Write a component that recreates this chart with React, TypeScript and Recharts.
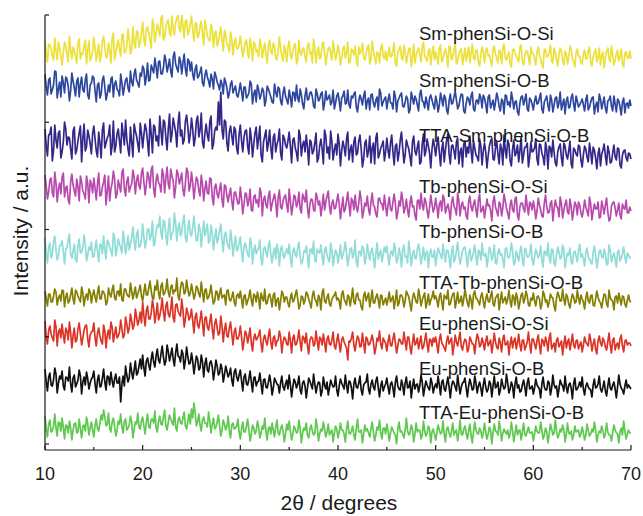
import { Line, LineChart, XAxis, YAxis } from "recharts";

// XRD scan: 10–70°, read at 0.25° points plus the half-step points between them
const SCAN_START = 10;
const SCAN_STEP = 0.125;
const SCAN_POINTS = 481;

const sampleNames = [
  "Sm-phenSi-O-Si",
  "Sm-phenSi-O-B",
  "TTA-Sm-phenSi-O-B",
  "Tb-phenSi-O-Si",
  "Tb-phenSi-O-B",
  "TTA-Tb-phenSi-O-B",
  "Eu-phenSi-O-Si",
  "Eu-phenSi-O-B",
  "TTA-Eu-phenSi-O-B",
];

// vertical stacking offset of each trace (a.u.)
const offsets = [384, 337, 284, 231, 184, 141, 97, 54, 9];

const xMajorTicks = [10, 20, 30, 40, 50, 60, 70];
const xMinorTicks = [15, 25, 35, 45, 55, 65];
const yTicks = [0, 107.25, 214.5, 321.75, 429];

// intensities at 10, 10.25, ... 70 (one row per 5°)
const smSiOSi = [
  20, -2, 15, 4, 22, 0, 12, -5, 18, 6, 24, 1, 9, -3, 21, 7, 14, -4, 19, 3,
  23, -1, 16, 5, 24, 2, 17, -3, 27, 8, 20, 4, 26, 9, 31, 6, 33, 12, 28, 18,
  38, 14, 33, 20, 41, 18, 36, 24, 45, 22, 38, 27, 44, 25, 42, 31, 45, 22, 40, 29,
  44, 19, 37, 25, 39, 15, 33, 21, 36, 12, 29, 18, 33, 9, 26, 14, 28, 5, 22, 11,
  24, 3, 18, 7, 22, -1, 16, 10, 21, 2, 17, -3, 20, 6, 14, 0, 23, 4, 15, -2,
  19, 1, 14, -4, 20, 5, 12, -2, 17, 8, 21, -3, 13, 3, 18, -5, 11, 7, 19, 0,
  15, -5, 11, 2, 18, -2, 9, 14, -6, 6, 17, 0, 12, -4, 19, 3, 8, -3, 16, 1,
  -1, 13, 4, 17, -6, 10, 2, 15, -3, 11, -7, 16, 5, 12, -2, 18, 1, 9, -5, 14,
  8, -4, 15, 1, 11, -7, 13, 3, 17, -2, 9, -5, 12, 6, -3, 16, 0, 10, -6, 13,
  -3, 12, 5, -6, 14, 2, 10, -4, 16, 0, 8, -7, 11, 4, -2, 15, -5, 9, 3, 13,
  6, -5, 13, 1, -8, 10, 4, 15, -3, 7, -6, 12, 0, 9, -4, 14, 2, -7, 11, 3,
  -4, 10, 2, 13, -6, 7, -2, 12, 4, -8, 9, 1, 14, -5, 6, -1, 11, -7, 8, 2,
  1,
];
// intensities at 10.125, 10.375, ... 69.875
const smSiOSiMid = [
  5, 16, 11, 0, 9, 18, 3, 7, 14, -2, 10, 13, 4, 17, 1, 6, 20, 10, -1, 8,
  12, 7, -2, 19, 13, 4, 9, 22, 0, 15, 11, 25, 7, 14, 21, 10, 17, 29, 13, 26,
  22, 31, 27, 12, 35, 26, 30, 42, 20, 33, 40, 24, 31, 37, 45, 28, 34, 39, 25, 36,
  30, 37, 22, 33, 27, 40, 24, 19, 31, 27, 14, 25, 20, 30, 16, 8, 21, 17, 12, 15,
  14, 10, 20, 2, 13, 18, 8, 3, 15, 11, 5, 14, 8, 17, 2, 10, 12, -1, 9, 13,
  5, 9, 16, -1, 7, 11, 3, 14, 6, -3, 12, 9, 1, 16, 7, 4, 13, 0, 9, 6,
  8, 2, 14, 7, -3, 11, 5, 0, 13, 9, 3, 6, 15, 1, 10, -4, 7, 12, 4, 9,
  6, 3, 10, -4, 8, 14, 0, 7, 5, 12, 2, -3, 9, 6, 13, 4, -1, 11, 7, 0,
  3, 12, -2, 7, 5, 14, 0, 9, -4, 6, 11, 3, -1, 13, 7, 2, 10, -3, 5, 8,
  9, 4, -1, 11, 6, -3, 8, 12, 2, 5, -4, 10, 7, 1, 13, -2, 4, 9, -5, 7,
  2, 8, 5, -4, 11, 3, 7, -1, 12, 0, 5, 9, -5, 6, 3, 10, -2, 7, 4, -3,
  6, 1, 9, -3, 4, 11, 2, -5, 8, 3, 12, -2, 5, 0, 10, 4, -4, 7, 2, 9,
];

const smSiOB = [
  33, 12, 29, 17, 36, 9, 25, 31, 14, 28, 6, 34, 19, 26, 10, 30, 15, 33, 8, 24,
  29, 5, 24, 13, 31, 7, 22, 28, 10, 26, 16, 33, 12, 27, 19, 36, 21, 38, 24, 34,
  41, 22, 44, 27, 38, 49, 29, 46, 33, 52, 35, 48, 30, 55, 39, 50, 33, 53, 31, 46,
  45, 27, 42, 31, 40, 21, 37, 26, 33, 18, 31, 22, 27, 13, 25, 9, 23, 14, 21, 10,
  24, 6, 20, 11, 26, 3, 17, 22, 8, 19, 1, 21, 14, 5, 23, 10, 18, 2, 20, 7,
  17, 0, 14, 22, 5, 12, -2, 19, 8, 15, 1, 18, 6, 13, -3, 16, 9, 2, 17, 4,
  14, -4, 11, 3, 17, -1, 9, 15, -5, 12, 2, 16, 6, -3, 13, 0, 10, 18, 1, 8,
  -2, 13, 4, 16, -5, 9, 14, 0, 11, -6, 15, 3, 8, -4, 17, 5, 10, -3, 12, 2,
  11, -5, 14, 1, 9, -7, 13, 4, 16, -2, 8, 12, -6, 10, 2, 15, -4, 7, 13, -1,
  9, -6, 12, 3, -3, 14, 0, 8, -7, 11, 5, 15, -2, 6, -8, 10, 2, 13, -4, 7,
  -3, 11, 4, 14, -6, 8, 1, 12, -5, 9, -1, 15, 3, -7, 10, 0, 13, -4, 6, 2,
  8, -4, 12, 0, 9, -7, 5, 13, -2, 10, -6, 7, 1, 11, -5, 6, -8, 9, 3, -1,
  1,
];
const smSiOBMid = [
  20, 27, 13, 22, 35, 18, 10, 24, 30, 21, 16, 26, 11, 29, 23, 17, 27, 12, 22, 31,
  16, 22, 9, 27, 20, 13, 15, 30, 23, 18, 11, 24, 20, 29, 15, 25, 33, 27, 20, 31,
  38, 30, 26, 42, 34, 40, 45, 33, 39, 47, 41, 36, 50, 43, 35, 46, 44, 38, 48, 36,
  33, 38, 29, 35, 24, 32, 30, 20, 28, 35, 25, 17, 23, 29, 19, 14, 26, 18, 12, 16,
  16, 20, 9, 14, 23, 13, 5, 17, 12, 16, 7, 18, 10, 4, 15, 20, 6, 14, 11, 3,
  10, 15, 6, 9, 18, 3, 11, 7, 14, 10, -1, 13, 8, 15, 4, 7, 12, 5, -2, 11,
  6, 9, 16, 4, 2, 11, 13, 0, 6, 8, 11, -2, 9, 12, 4, 7, -3, 14, 5, 10,
  7, 4, -2, 10, 6, 12, 1, 5, 8, -3, 9, 11, 2, 13, 6, -1, 4, 9, 7, -2,
  5, 2, 8, 12, -3, 6, 3, 10, 7, 1, 13, -4, 4, 8, 11, -2, 6, 3, 9, 12,
  3, 10, -1, 7, 5, 9, -4, 6, 12, 2, 0, 8, 5, -5, 4, 11, 7, -2, 9, 3,
  6, 3, 9, -2, 5, 11, -4, 7, 2, 10, 4, -3, 8, 6, -1, 9, 3, 11, 0, 5,
  2, 7, -3, 5, 10, 1, -5, 8, 4, -1, 6, 11, -4, 3, 8, 0, 5, -6, 4, 7,
];

const ttaSmSiOB = [
  31, 4, 26, -1, 35, 12, 29, 8, 38, 15, 22, 1, 33, 10, 27, -2, 36, 13, 24, 6,
  34, 9, 28, 2, 37, 17, 25, 5, 39, 14, 31, 7, 26, 40, 11, 33, 3, 29, 16, 37,
  12, 36, 18, 41, 7, 33, 24, 44, 15, 38, 10, 46, 26, 35, 13, 48, 30, 20, 45, 17,
  42, 14, 39, 23, 47, 12, 36, 19, 44, 16, 33, 58, 68, 21, 38, 9, 34, 15, 30, 6,
  35, 8, 29, 14, 32, 3, 27, 11, 34, -2, 24, 9, 30, 1, 26, 16, 31, 0, 22, 12,
  28, -3, 22, 7, 30, 4, 19, 25, -5, 18, 9, 27, 2, 21, -4, 24, 13, 29, 0, 16,
  26, -6, 19, 4, 28, 10, -2, 23, 7, 25, -7, 17, 3, 24, 12, -4, 27, 6, 15, -1,
  22, 2, 25, -5, 16, 7, 28, -3, 20, 11, -6, 24, 5, 19, -2, 26, 9, 14, -8, 21,
  4, 23, -6, 18, 10, 26, -4, 15, 1, 22, 8, -7, 19, 13, 24, -3, 12, 3, 21, -5,
  17, -8, 14, 22, 0, 19, -4, 11, 25, 2, 16, -6, 20, 7, -2, 23, 5, 13, -7, 18,
  9, 21, -5, 15, 3, 18, -9, 12, 20, -3, 8, 16, -6, 14, 1, 19, -8, 10, 4, 13,
  -7, 14, 3, 17, -4, 10, -9, 12, 6, 16, -5, 8, -2, 15, 0, 11, -8, 9, 2, 7,
  1,
];
const ttaSmSiOBMid = [
  14, 25, 33, 9, 20, 27, 2, 18, 31, 23, 11, 29, 6, 19, 34, 21, 9, 30, 16, 26,
  21, 3, 17, 30, 12, 22, 35, 14, 8, 26, 19, 37, 15, 21, 4, 18, 36, 24, 8, 27,
  25, 30, 4, 26, 35, 19, 14, 29, 40, 22, 31, 18, 42, 28, 37, 24, 16, 39, 33, 26,
  31, 22, 44, 30, 18, 27, 25, 38, 11, 29, 30, 35, 30, 40, 17, 28, 24, 33, 12, 26,
  19, 23, 30, 6, 21, 16, 33, 22, 5, 18, 30, 17, 12, 23, 8, 20, 7, 25, 15, 19,
  14, 20, 12, -1, 24, 15, 8, 13, 20, 6, 17, -2, 14, 11, 30, 7, 1, 18, 10, 5,
  16, 9, 13, 21, 0, 15, 18, 5, 19, 11, 1, 20, 9, -3, 17, 22, 2, 12, 19, 8,
  10, 17, 8, 14, -1, 20, 12, 5, 15, 3, 18, 9, 13, -4, 16, 4, 21, 7, 11, 14,
  15, 8, 11, -2, 20, 6, 14, 9, 18, -4, 12, 16, 3, 7, 10, 19, 5, -1, 14, 9,
  8, 4, 19, 1, 12, 6, 16, -5, 10, 20, -1, 11, 4, 15, 9, -3, 13, 17, 3, 8,
  12, 1, 16, 7, -5, 10, 14, 3, 8, -6, 13, 2, 17, 5, 9, -4, 12, 6, 15, 0,
  5, 11, -2, 8, 13, 2, 6, -6, 10, 4, 14, -3, 7, 3, 12, -5, 5, 10, -1, 6,
];

const tbSiOSi = [
  38, 14, 33, 20, 41, 11, 30, 36, 16, 27, 9, 39, 22, 34, 12, 31, 19, 37, 10, 29,
  35, 13, 40, 18, 31, 8, 37, 24, 42, 15, 33, 21, 44, 17, 36, 26, 43, 19, 38, 24,
  45, 18, 41, 25, 47, 16, 39, 28, 44, 20, 46, 24, 37, 15, 43, 29, 40, 17, 45, 22,
  41, 14, 36, 22, 38, 12, 32, 19, 34, 8, 29, 15, 30, 6, 27, 11, 25, 3, 21, 9,
  26, -1, 20, 7, 24, 2, 18, 13, 25, -3, 17, 5, 22, 9, 19, -4, 23, 4, 16, 8,
  24, -2, 18, 6, 21, 0, 15, 23, -5, 14, 3, 20, 8, -3, 19, 11, 22, -1, 13, 5,
  19, -6, 16, 4, 21, -3, 12, 18, 1, 22, -5, 10, 17, -2, 20, 6, -4, 15, 9, 18,
  -3, 16, 2, 19, -6, 12, 21, 0, 14, -4, 17, 7, -7, 13, 20, 3, 11, -5, 18, 1,
  15, -5, 12, 18, 0, 9, -7, 16, 4, 20, -3, 11, 6, -6, 17, 2, 13, -4, 19, 3,
  -5, 14, 8, -8, 17, 2, 11, -3, 19, 5, -6, 13, 1, 16, -7, 10, 4, 18, -2, 9,
  12, -6, 15, 3, -4, 18, 0, 10, -8, 13, 5, 16, -5, 9, 1, 14, -7, 11, -2, 8,
  -4, 13, 2, 16, -7, 9, 4, -5, 12, -1, 15, -8, 7, 11, -3, 10, -6, 5, 13, 0,
  2,
];
const tbSiOSiMid = [
  27, 21, 35, 16, 30, 24, 19, 40, 25, 13, 31, 28, 17, 26, 37, 22, 14, 29, 33, 20,
  25, 29, 17, 26, 38, 22, 12, 30, 34, 19, 27, 40, 24, 31, 21, 29, 36, 32, 27, 40,
  31, 28, 36, 43, 24, 33, 30, 21, 38, 35, 29, 44, 32, 26, 39, 34, 23, 30, 41, 27,
  30, 26, 33, 17, 29, 24, 20, 35, 16, 26, 19, 24, 13, 28, 17, 19, 12, 20, 15, 10,
  14, 9, 19, 12, 3, 16, 10, 6, 20, 13, 8, 17, 2, 14, 11, 15, 6, 12, 18, 1,
  12, 7, 16, 10, 4, 19, 11, 5, 9, 13, 2, 15, 12, 6, 3, 17, 7, 10, 4, 12,
  9, 5, 1, 12, 8, 15, 3, 6, 10, 13, 2, 7, 4, 11, 8, -1, 14, 10, 3, 7,
  8, 4, 11, 9, 1, 7, 13, 5, 3, 10, 6, -2, 12, 4, 8, 15, 2, 6, 9, 5,
  6, 9, 2, 14, 5, 3, 10, 7, -2, 12, 8, 4, -3, 11, 6, 9, 3, 13, 1, 7,
  4, 7, 2, 11, 6, -3, 9, 5, 12, 0, 8, 3, 14, -2, 6, 10, 1, 7, 11, 3,
  5, 2, 8, -3, 10, 6, 1, 12, 4, 7, -4, 9, 3, 13, -1, 6, 2, 8, 11, 0,
  3, 6, -3, 9, 2, 4, 11, -4, 6, 8, 1, -6, 10, 5, 3, -2, 9, 4, 0, 6,
];

const tbSiOB = [
  22, -3, 17, 5, 24, 0, 14, 19, -4, 12, 26, 2, 16, -2, 21, 8, 25, -1, 13, 18,
  3, 20, -2, 15, 24, 1, 18, 9, 27, 4, 21, 12, 29, 6, 24, 16, 33, 10, 30, 14,
  36, 12, 31, 20, 39, 17, 35, 44, 21, 38, 15, 42, 26, 47, 19, 37, 28, 45, 18, 40,
  24, 44, 19, 36, 13, 39, 30, 17, 35, 10, 31, 22, 36, 8, 28, 14, 30, 4, 24, 11,
  23, -2, 17, 6, 22, -4, 15, 10, 20, -5, 13, 3, 19, -3, 12, 16, -6, 14, 2, 11,
  16, -7, 12, 3, 18, -4, 9, 14, -8, 11, 19, -2, 8, 15, -5, 13, 1, 17, -6, 10,
  -3, 15, 5, 18, -6, 11, 2, 20, -7, 9, 14, -4, 16, 0, 12, -8, 17, 6, -2, 13,
  14, -5, 9, 17, -3, 12, -7, 15, 4, 19, -6, 10, 1, 16, -4, 13, 7, -8, 11, 3,
  -6, 12, 5, 16, -2, 10, -8, 14, 1, 18, -4, 9, 13, -7, 11, 2, 15, -5, 8, 17,
  4, -7, 13, 0, 15, -4, 11, 6, -8, 12, 2, 17, -5, 9, -1, 14, -6, 10, 3, 16,
  -5, 11, 2, 14, -7, 8, 17, -3, 10, -6, 13, 1, 15, -8, 7, 12, -4, 9, -2, 16,
  6, -6, 12, 1, -4, 14, -8, 9, 3, 11, -5, 15, -2, 7, -7, 10, 2, 13, -3, 5,
  2,
];
const tbSiOBMid = [
  7, 13, 2, 19, 10, 4, 15, 8, 11, 20, 6, 9, 1, 14, 7, 12, 16, 5, 10, 3,
  12, 8, 16, 6, 10, 20, 13, 4, 23, 11, 16, 7, 19, 14, 10, 22, 19, 25, 13, 21,
  23, 19, 31, 25, 14, 28, 33, 27, 40, 25, 31, 20, 29, 36, 32, 24, 38, 22, 31, 26,
  33, 29, 20, 31, 27, 24, 36, 19, 26, 22, 17, 29, 20, 24, 18, 11, 20, 15, 9, 17,
  8, 14, 11, 3, 17, 9, 6, 12, 1, 11, 8, 14, 5, 7, 1, 9, 11, 4, 8, 6,
  2, 9, 5, 12, 3, -1, 8, 4, 10, 6, 0, 11, 7, 3, 9, 5, -2, 10, 4, 7,
  5, 1, 10, 7, 3, 12, 6, -2, 8, 4, 11, 2, 7, 9, 3, 6, 1, 10, 5, 8,
  2, 7, 4, 9, 1, 6, 10, 3, -3, 8, 5, 2, 11, 7, 4, 0, 9, 6, 3, 10,
  4, 8, 1, 6, 10, 3, 7, -2, 9, 5, 2, 12, 4, 6, -1, 8, 3, 10, 0, 5,
  7, 2, 10, 4, -3, 8, 5, 1, 11, 3, 6, 9, -2, 4, 8, 0, 12, 3, 6, 1,
  3, 7, 5, 0, 9, 4, 2, 11, -3, 6, 8, 3, 10, 1, 5, -2, 7, 4, 9, 3,
  1, 8, 3, -2, 7, 5, 0, 10, 2, 6, -4, 9, 4, 1, 8, -1, 6, 3, 7, 2,
];

const ttaTbSiOB = [
  12, -3, 9, 1, 14, -2, 8, 13, -4, 10, 2, 15, -1, 11, 4, 16, -3, 9, 14, 0,
  13, 1, 17, 4, 11, -2, 15, 6, 18, 3, 12, 19, 2, 14, 7, 20, 4, 16, 9, 18,
  2, 19, 8, 22, 5, 17, 23, 4, 20, 10, 24, 6, 18, 13, 25, 3, 21, 9, 23, 7,
  19, 4, 17, 9, 21, 1, 14, 6, 18, -1, 12, 3, 15, 7, -2, 13, 2, 11, -3, 9,
  12, -5, 8, 2, 13, -3, 7, 11, -6, 5, 14, 0, 9, -4, 10, 3, -7, 12, 1, 6,
  -4, 10, 3, 13, -6, 7, -1, 11, 4, -5, 12, 2, 8, -7, 14, 0, 9, -3, 6, 11,
  5, -6, 12, 1, 8, -3, 15, -1, 10, 3, -7, 11, 6, -4, 13, 0, 9, -5, 7, 2,
  -2, 11, 4, -6, 13, 0, 8, -4, 12, 6, -8, 10, 1, 14, -3, 7, -5, 9, 3, 12,
  7, -4, 10, -7, 6, 13, -1, 9, -5, 11, 2, -3, 14, 0, 8, -6, 12, 4, -2, 10,
  -5, 9, 1, 12, -3, 7, -7, 11, 3, -1, 13, -4, 6, 10, -6, 8, 0, 12, -2, 5,
  10, -3, 7, -6, 12, 1, -4, 9, 5, -8, 11, 2, 14, -2, 6, -5, 9, 0, 13, -1,
  4, -6, 11, 0, 8, -3, 12, 2, -5, 9, -1, 13, 3, -7, 7, 10, -2, 6, -4, 8,
  1,
];
const ttaTbSiOBMid = [
  4, 9, 1, 7, 11, 5, 2, 12, 6, 0, 8, 4, 13, 7, 1, 10, 6, 3, 11, 8,
  6, 10, 4, 12, 8, 1, 9, 13, 5, 11, 7, 3, 14, 9, 6, 12, 10, 5, 13, 7,
  11, 8, 15, 12, 4, 13, 10, 17, 8, 14, 11, 16, 9, 12, 7, 15, 19, 11, 14, 10,
  12, 8, 15, 6, 11, 13, 4, 10, 7, 2, 11, 9, 5, 8, 12, 4, 6, 1, 7, 5,
  4, 7, -2, 6, 3, 9, 1, 5, 10, 2, -1, 7, 4, 8, -3, 5, 2, 9, 6, 0,
  5, 1, 8, 4, -2, 6, 3, 9, 0, 7, 4, -3, 5, 10, 2, 6, -1, 4, 8, 3,
  2, 9, 4, -2, 6, 5, 1, 8, 3, -4, 7, 2, 10, 4, 0, 6, 3, 8, -2, 5,
  4, 1, 7, 3, -3, 8, 5, 2, 9, -1, 4, 6, 0, 7, 3, 10, 1, -2, 6, 4,
  3, 6, 1, 8, 4, -2, 5, 10, 2, 0, 7, 4, 6, -4, 3, 9, 5, 1, 7, 2,
  4, 2, 7, -1, 5, 9, 3, 0, 6, 4, 2, 8, -2, 5, 1, 10, 4, 7, -3, 3,
  2, 6, 4, -1, 8, 3, 1, 6, -3, 5, 7, 2, 4, 9, -1, 3, 6, 1, 5, 8,
  1, 5, 2, 7, -2, 4, 6, 0, 3, 8, -4, 5, 2, 6, 0, 4, 7, -1, 3, 2,
];

const euSiOSi = [
  26, 3, 21, 9, 27, 1, 18, 23, 4, 16, 25, -1, 19, 7, 24, 2, 17, 22, 0, 15,
  24, 1, 19, 6, 22, -1, 17, 25, 5, 20, 11, 27, 9, 30, 14, 33, 18, 38, 22, 35,
  45, 21, 41, 28, 47, 24, 44, 31, 49, 26, 45, 30, 50, 25, 43, 33, 48, 20, 39, 27,
  38, 14, 34, 19, 36, 11, 30, 17, 33, 8, 28, 12, 31, 5, 24, 10, 25, 2, 19, 8,
  21, -3, 16, 4, 19, -4, 13, 9, 17, -5, 12, 2, 18, -2, 11, 6, 16, -6, 10, 3,
  15, -6, 12, 3, 17, -4, 9, 14, -7, 10, 1, 16, -3, 8, 13, -5, 11, 2, 15, -2,
  13, -5, 10, 2, -13, 5, 15, -4, 11, 0, 14, -6, 8, 3, 12, -7, 9, 16, -2, 6,
  -4, 12, 1, 14, -6, 8, 3, 15, -3, 10, -7, 13, 4, -2, 11, 0, 14, -5, 7, 9,
  10, -6, 13, 2, -4, 11, 6, -8, 12, 1, 15, -3, 8, -5, 10, 3, -7, 13, 0, 9,
  -3, 11, 4, -6, 14, 0, 9, -5, 12, 3, -8, 10, 6, -2, 13, -4, 7, 1, 15, -6,
  8, -2, 12, -7, 6, 10, -4, 14, 1, -5, 9, 3, -8, 11, 5, -3, 13, -1, 7, 2,
  -5, 10, 3, 13, -4, 8, -7, 11, 1, 6, -3, 14, -6, 9, 2, -2, 12, -5, 7, 4,
  1,
];
const euSiOSiMid = [
  10, 17, 13, 6, 20, 15, 9, 12, 19, 7, 14, 11, 5, 18, 13, 9, 21, 8, 12, 16,
  9, 14, 11, 3, 16, 12, 8, 20, 13, 9, 15, 18, 12, 23, 19, 26, 22, 30, 27, 24,
  31, 36, 28, 34, 39, 33, 27, 38, 35, 41, 33, 38, 29, 42, 36, 31, 37, 28, 34, 30,
  26, 30, 22, 27, 24, 29, 20, 25, 18, 23, 19, 14, 21, 17, 11, 19, 13, 15, 8, 12,
  10, 6, 13, 11, 4, 9, 7, 12, 3, 8, 6, 11, 4, 9, 1, 7, 10, 5, 8, 2,
  6, 9, 2, 8, 5, 11, 4, 1, 7, 9, 3, 6, 10, 2, 5, 8, 3, 7, 1, 6,
  3, 7, 5, -1, 6, 9, 2, 5, 8, 1, 4, 10, 2, 7, 5, -1, 6, 3, 9, 4,
  5, 2, 8, 4, 1, 7, 3, 6, 10, 0, 4, 2, 9, 5, -2, 6, 3, 8, 1, 5,
  2, 7, 4, -1, 6, 3, 9, 1, 5, 8, 0, 4, 6, -2, 7, 3, 5, 9, 2, 4,
  6, 1, 7, 3, 5, -2, 4, 8, 2, 6, 3, -1, 9, 4, 2, 7, -3, 5, 3, 8,
  3, 6, 2, 8, 1, 5, 9, -2, 4, 7, 0, 6, 3, -1, 8, 4, 2, 6, -2, 5,
  2, 5, 1, 7, 3, -2, 6, 4, 9, 0, 5, 2, 7, -3, 4, 8, 1, 6, 2, 4,
];

const euSiOB = [
  21, -1, 17, 4, 22, -3, 14, 19, 0, 12, 23, -2, 15, 6, 20, -4, 13, 18, 1, 11,
  19, -3, 15, 4, 21, 0, 13, 18, 3, 16, 7, -12, 14, 24, 8, 27, 11, 29, 17, 31,
  35, 14, 32, 20, 38, 23, 41, 27, 44, 25, 45, 29, 42, 24, 46, 33, 40, 21, 43, 26,
  37, 16, 34, 20, 35, 13, 32, 18, 29, 10, 30, 15, 26, 8, 24, 13, 22, 4, 21, 9,
  20, -1, 16, 5, 19, -2, 13, 8, 17, -4, 11, 2, 15, -5, 12, 6, -3, 14, 0, 10,
  15, -7, 11, 2, 14, -4, 9, -8, 12, 5, 16, -3, 8, -6, 13, 1, -5, 10, 3, 14,
  -6, 11, 4, 15, -3, 8, -9, 12, 2, 14, -5, 7, 16, -4, 10, 0, 13, -7, 9, 3,
  12, -4, 8, -7, 14, 1, 10, -5, 13, 3, -8, 11, 5, -2, 15, -6, 9, 2, 12, -3,
  6, 14, -5, 10, -1, 13, -8, 9, 3, 15, -4, 7, 12, -7, 11, 0, 14, -3, 8, -6,
  12, -2, 9, -7, 14, 4, -5, 11, 1, 16, -3, 8, -8, 13, 5, -1, 10, -6, 12, 2,
  -4, 11, 3, -8, 13, 0, 9, -5, 15, 2, -7, 10, 4, 14, -3, 7, -9, 12, 1, 8,
  13, -5, 7, 1, -7, 11, 3, 14, -2, 9, -6, 12, 0, 8, -8, 15, 2, -4, 10, 5,
  1,
];
const euSiOBMid = [
  8, 13, 5, 10, 16, 7, 11, 4, 13, 9, 6, 12, 3, 10, 14, 8, 5, 11, 7, 13,
  6, 10, 3, 12, 8, 14, 5, 9, 11, 7, 13, 6, 4, 15, 12, 18, 20, 15, 24, 21,
  22, 29, 25, 31, 28, 34, 30, 36, 33, 29, 38, 35, 31, 37, 34, 28, 36, 30, 33, 27,
  29, 25, 31, 22, 28, 26, 20, 27, 23, 19, 24, 17, 21, 15, 19, 16, 10, 18, 13, 15,
  9, 13, 6, 11, 8, 12, 4, 9, 6, 10, 3, 8, 7, 2, 9, 5, 7, 3, 6, 1,
  5, 3, 8, 6, 0, 7, 4, 2, 9, 1, 6, 4, 7, -1, 5, 8, 2, 6, 4, 0,
  4, 7, 1, 5, 9, 2, 6, 3, 7, 0, 5, 8, 1, 6, 3, 9, 2, 4, -1, 6,
  3, 6, 2, 8, 4, 0, 5, 7, 2, 9, 3, 1, 6, 4, 8, 2, 5, 0, 7, 3,
  2, 5, 8, 1, 6, 3, 4, 7, -1, 5, 3, 8, 2, 4, 6, 1, 7, 4, 2, 5,
  3, 1, 6, 4, 2, 8, 0, 5, 3, 7, 1, 4, 6, 2, -2, 5, 3, 7, 1, 4,
  2, 5, 1, 6, 3, 0, 7, 2, 5, 4, 1, 6, -1, 3, 5, 2, 6, 0, 4, 3,
  1, 4, 3, 0, 5, 2, 6, 1, 3, -1, 4, 2, 5, 1, 3, 6, 0, 4, 2, 3,
];

const ttaEuSiOB = [
  19, -2, 15, 4, 21, -1, 12, 17, -4, 9, 14, -5, 11, 2, 16, -3, 10, 18, 0, 13,
  -2, 16, 4, 20, 25, 9, 22, 3, 17, -1, 14, 21, 2, 16, 7, 19, -3, 13, 22, 6,
  18, 1, 21, 7, 16, 24, 3, 19, 10, 25, 5, 20, 13, 27, 4, 18, 11, 23, 6, 21,
  26, 32, 9, 21, 4, 18, 12, 23, 2, 17, 8, 20, -1, 15, 5, 19, -3, 12, 7, 16,
  -4, 13, 3, 16, -6, 10, 1, 14, -3, 9, 17, -5, 8, 12, -2, 15, 0, 10, -7, 11,
  14, -5, 9, 2, 15, -8, 7, 12, -3, 10, 0, 16, -6, 6, 13, -2, 11, 3, -7, 9,
  -3, 12, 5, -7, 14, 1, 9, -5, 16, 3, -8, 10, 6, -2, 13, -6, 8, 15, -4, 7,
  11, -6, 8, 2, -9, 13, 4, -3, 17, 0, 10, -7, 12, 5, -4, 14, -1, 9, -8, 6,
  -5, 10, 1, 14, -7, 8, -2, 12, 3, -6, 15, 0, 9, -4, 11, -8, 13, 2, 7, -3,
  12, -4, 8, -9, 11, 3, 14, -6, 6, 1, -3, 13, -7, 10, 4, -5, 12, -1, 8, 2,
  -6, 9, 2, 13, -4, 7, -8, 11, 0, 15, -3, 6, 10, -7, 12, 1, -5, 9, 4, -2,
  8, -5, 11, -1, 6, 13, -7, 4, 9, -3, 12, 0, -6, 10, 2, -8, 7, 14, -4, 5,
  2,
];
const ttaEuSiOBMid = [
  6, 11, 3, 9, 7, 13, 4, 8, 10, 2, 7, 5, 12, 3, 6, 9, 4, 11, 7, 5,
  10, 6, 12, 15, 18, 11, 7, 13, 9, 4, 11, 8, 14, 5, 10, 13, 6, 11, 8, 14,
  9, 13, 8, 16, 12, 7, 14, 11, 18, 9, 13, 16, 10, 8, 15, 12, 17, 9, 14, 11,
  17, 22, 13, 10, 15, 12, 8, 14, 11, 6, 13, 9, 5, 11, 8, 4, 10, 6, 9, 3,
  6, 3, 9, 5, 1, 7, 4, 8, 2, 6, 3, 7, 1, 5, 8, 2, 6, 4, 1, 5,
  4, 1, 6, 3, 7, 2, 5, 0, 6, 4, 2, 8, 1, 4, 6, 3, 0, 5, 2, 6,
  3, 5, 1, 6, 2, 4, 0, 7, 3, 5, 1, 4, 2, 6, 3, 0, 5, 2, 7, 1,
  4, 2, 5, 0, 6, 3, 1, 5, 4, 2, 6, 1, 3, 5, 0, 4, 2, 6, 3, 1,
  2, 5, 3, 1, 6, 2, 4, 0, 5, 3, 1, 6, 2, 4, 0, 3, 5, 1, 4, 2,
  3, 1, 5, 2, 4, 0, 6, 2, 3, 5, 1, 4, 2, 0, 5, 3, 1, 4, 2, 3,
  1, 4, 2, 5, 0, 3, 1, 6, 2, 4, 0, 3, 5, 1, 2, 4, 0, 3, 5, 1,
  2, 0, 4, 1, 3, 5, 0, 2, 4, 1, 3, 0, 2, 5, 1, 3, 0, 4, 1, 2,
];

// [on-step values, half-step values] for each sample
const traces = [
  [smSiOSi, smSiOSiMid],
  [smSiOB, smSiOBMid],
  [ttaSmSiOB, ttaSmSiOBMid],
  [tbSiOSi, tbSiOSiMid],
  [tbSiOB, tbSiOBMid],
  [ttaTbSiOB, ttaTbSiOBMid],
  [euSiOSi, euSiOSiMid],
  [euSiOB, euSiOBMid],
  [ttaEuSiOB, ttaEuSiOBMid],
];

const colors = [
  "#ebe13a",
  "#2e479e",
  "#34278a",
  "#b94aad",
  "#8fdcd8",
  "#847f00",
  "#dd3327",
  "#111111",
  "#5ec84f",
];

// label baselines (px) next to each trace
const labelBaselines = [40, 87, 142, 193, 238, 289, 330, 375, 419];

const FONT = "'Liberation Sans', Arial, Helvetica, sans-serif";
const INK = "#1a1a1a";

const chartData = Array.from({ length: SCAN_POINTS }, (_, j) => {
  const row: Record<string, number> = { theta: SCAN_START + j * SCAN_STEP };
  traces.forEach(([onStep, halfStep], k) => {
    const v = j % 2 === 0 ? onStep[j / 2] : halfStep[(j - 1) / 2];
    if (v != null) row[`s${k}`] = offsets[k] + v;
  });
  return row;
});

function XTick({ x, y, payload }: any) {
  const major = xMajorTicks.includes(payload.value);
  return (
    <g>
      <line x1={x} x2={x} y1={y} y2={y - (major ? 5 : 3)} stroke={INK} strokeWidth={1.2} />
      {major && (
        <text x={x} y={y + 30} textAnchor="middle" fontSize={18} fill={INK} fontFamily={FONT}>
          {payload.value}
        </text>
      )}
    </g>
  );
}

function YTick({ x, y }: any) {
  return <line x1={x} x2={x + 4} y1={y} y2={y} stroke={INK} strokeWidth={1.2} />;
}

export default function App() {
  return (
    <div style={{ position: "absolute", left: 0, top: 0, width: 643, height: 516, background: "#fff" }}>
      <LineChart
        width={643}
        height={516}
        data={chartData}
        margin={{ top: 15, right: 12, bottom: 0, left: 0 }}
      >
        <XAxis
          dataKey="theta"
          type="number"
          domain={[10, 70]}
          ticks={[...xMajorTicks, ...xMinorTicks].sort((a, b) => a - b)}
          interval={0}
          height={66}
          tickSize={0}
          tickMargin={0}
          tickLine={false}
          tick={<XTick />}
          axisLine={{ stroke: INK, strokeWidth: 1.2 }}
        />
        <YAxis
          type="number"
          domain={[-6, 429]}
          allowDataOverflow
          ticks={yTicks}
          interval={0}
          width={45}
          tickSize={0}
          tickMargin={0}
          tickLine={false}
          tick={<YTick />}
          axisLine={{ stroke: INK, strokeWidth: 1.2 }}
        />
        {traces.map((_, k) => (
          <Line
            key={sampleNames[k]}
            dataKey={`s${k}`}
            type="linear"
            stroke={colors[k]}
            strokeWidth={1.7}
            strokeLinejoin="round"
            dot={false}
            activeDot={false}
            isAnimationActive={false}
          />
        ))}
      </LineChart>
      <svg
        width={643}
        height={516}
        style={{ position: "absolute", left: 0, top: 0, pointerEvents: "none" }}
        fontFamily={FONT}
        fill={INK}
      >
        {sampleNames.map((name, k) => (
          <text key={name} x={419} y={labelBaselines[k]} fontSize={18.5}>
            {name}
          </text>
        ))}
        <text x={339} y={510} textAnchor="middle" fontSize={21}>
          2θ / degrees
        </text>
        <text x={28} y={231} textAnchor="middle" fontSize={21} transform="rotate(-90 28 231)">
          Intensity / a.u.
        </text>
      </svg>
    </div>
  );
}
